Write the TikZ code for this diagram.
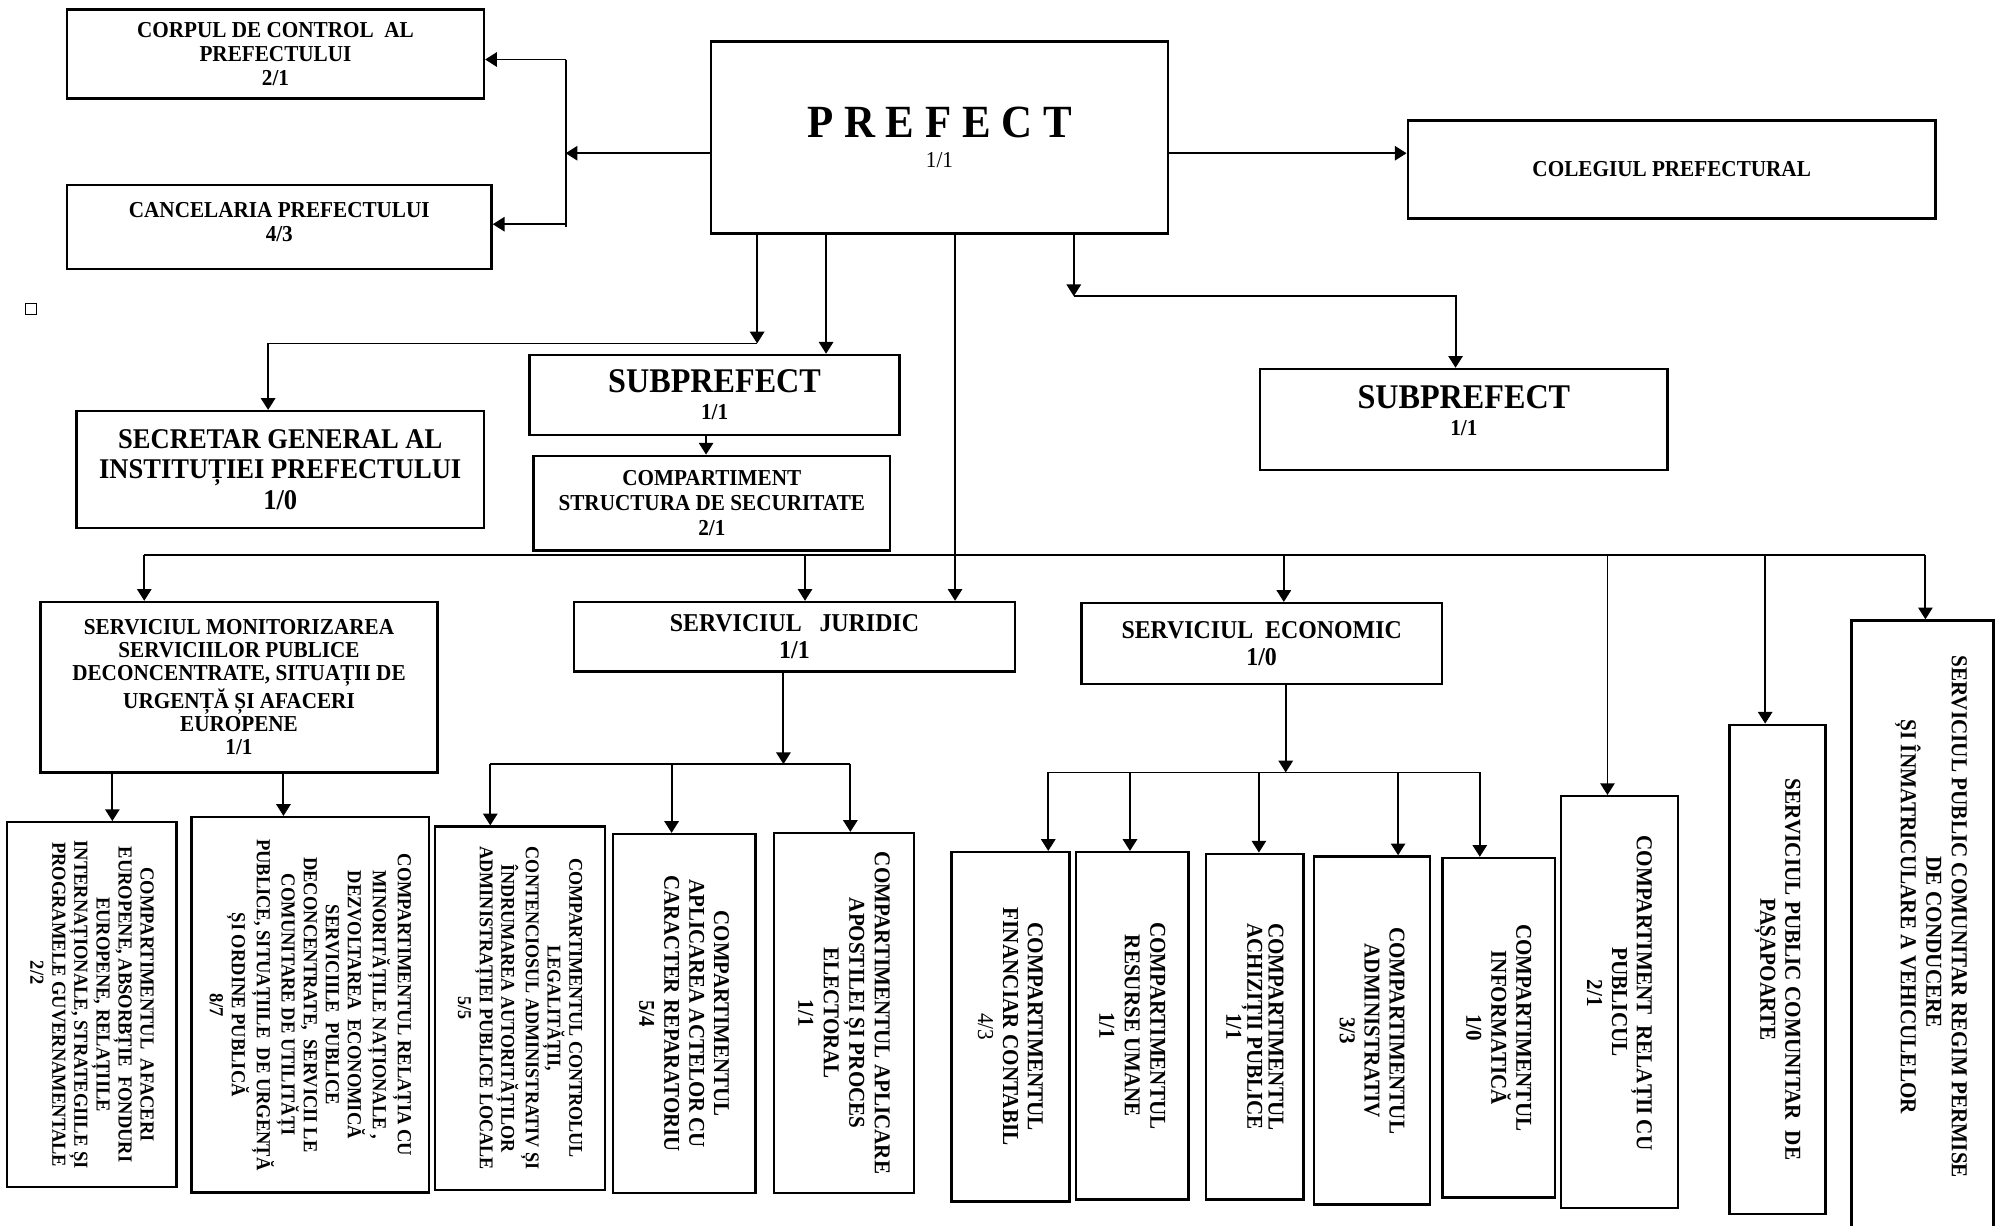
\documentclass[tikz,border=0pt]{standalone}
\usepackage{fontspec}
\setmainfont{Liberation Serif}[Scale=1.075, FakeStretch=0.93]
\usetikzlibrary{arrows.meta}
\newcommand{\myfs}[2]{\fontsize{#1}{#2}\selectfont}
\begin{document}
\begin{tikzpicture}[x={(0.5pt,0)},y={(0,-0.5pt)},
  box/.style={draw, line width=0.95pt, inner sep=0pt, align=center},
  rbox/.style={box, rotate=-90},
  arr/.style={line width=0.75pt, -{Triangle[length=4.6pt,width=5.6pt]}},
  ln/.style={line width=0.75pt}]
\useasboundingbox (0,0) rectangle (1568,960);

% top row
\node[box, font=\bfseries\myfs{8.3}{9.5}, minimum width=163.25pt, minimum height=35pt] (corp) at (215.75,42.3) {CORPUL DE CONTROL~~AL\\PREFECTULUI\\2/1};
\node[box, font=\bfseries\myfs{8.3}{9.5}, minimum width=166.25pt, minimum height=32.75pt] (canc) at (218.75,177.75) {CANCELARIA PREFECTULUI\\4/3\rule[-4pt]{0pt}{0pt}};
\node[box, font=\myfs{8.3}{11.75}, minimum width=178.8pt, minimum height=75.2pt] (pref) at (735.8,107.8) {{\bfseries\myfs{16.8}{11.75}P R E F E C T}\\1/1};
\node[box, font=\bfseries\myfs{8.3}{9.5}, minimum width=206.7pt, minimum height=38.25pt] (coleg) at (1309.3,132.75) {COLEGIUL PREFECTURAL};

\node[draw, line width=0.6pt, minimum size=4.2pt, inner sep=0pt] (sq) at (24.3,242) {};

% second level
\node[box, font=\bfseries\myfs{10.4}{12}, minimum width=159.5pt, minimum height=45.8pt] (secr) at (219.5,367.8) {SECRETAR GENERAL AL\\INSTITUȚIEI PREFECTULUI\\1/0};
\node[box, font=\bfseries\myfs{8.3}{10.5}, minimum width=145pt, minimum height=31.3pt] (subl) at (559.65,309.3) {{\myfs{12.6}{10.5}SUBPREFECT}\\1/1};
\node[box, font=\bfseries\myfs{8.3}{10.5}, minimum width=159.5pt, minimum height=39.5pt] (subr) at (1146.5,328.5) {{\myfs{12.6}{10.5}SUBPREFECT}\\1/1\rule[-7pt]{0pt}{0pt}};
\node[box, font=\bfseries\myfs{8.3}{9.65}, minimum width=139.5pt, minimum height=37pt] (cstr) at (557.5,394) {COMPARTIMENT\\STRUCTURA DE SECURITATE\\2/1};

% services
\node[box, font=\bfseries\myfs{8.3}{9}, minimum width=155.4pt, minimum height=66.75pt] (mon) at (187.2,538.25) {SERVICIUL MONITORIZAREA\\SERVICIILOR PUBLICE\\DECONCENTRATE, SITUAȚII DE\\URGENȚĂ ȘI AFACERI\\EUROPENE\\1/1};
\node[box, font=\bfseries\myfs{9.35}{10.5}, minimum width=172.75pt, minimum height=27.25pt] (jur) at (622.25,498.75) {SERVICIUL~~~JURIDIC\\1/1};
\node[box, font=\bfseries\myfs{9.35}{10.5}, minimum width=141.15pt, minimum height=31.6pt] (econ) at (988.15,504) {SERVICIUL~~ECONOMIC\\1/0};

% bottom row (rotated)
\node[rbox, font=\bfseries\myfs{7.25}{8.65}, minimum width=142.8pt, minimum height=66.35pt] (ca) at (72.05,786.8) {COMPARTIMENTUL~~AFACERI\\EUROPENE, ABSORBȚIE~~FONDURI\\EUROPENE, RELAȚIILE\\INTERNAȚIONALE, STRATEGIILE ȘI\\PROGRAMELE GUVERNAMENTALE\\2/2\hspace*{25pt}};
\node[rbox, font=\bfseries\myfs{7.25}{8.65}, minimum width=147pt, minimum height=93pt] (cb) at (243,787) {COMPARTIMENTUL RELAȚIA CU\\MINORITĂȚILE NAȚIONALE ,\\DEZVOLTAREA~~ECONOMICĂ\\SERVICIILE~~PUBLICE\\DECONCENTRATE,~~SERVICII LE\\COMUNITARE DE UTILITĂȚI\\PUBLICE, SITUAȚIILE~~DE URGENȚĂ\\ȘI ORDINE PUBLICĂ\\8/7};
\node[rbox, font=\bfseries\myfs{7.1}{8.5}, minimum width=142.3pt, minimum height=66.7pt] (cc) at (407.3,789.7) {COMPARTIMENTUL CONTROLUL\\LEGALITĂȚII,\\CONTENCIOSUL ADMINISTRATIV ȘI\\ÎNDRUMAREA AUTORITĂȚILOR\\ADMINISTRAȚIEI PUBLICE LOCALE\\5/5};
\node[rbox, font=\bfseries\myfs{8.2}{9.75}, minimum width=140.55pt, minimum height=55.85pt] (cd) at (535.85,793.85) {COMPARTIMENTUL\\APLICAREA ACTELOR CU\\CARACTER REPARATORIU\\5/4};
\node[rbox, font=\bfseries\myfs{8.25}{10}, minimum width=140.95pt, minimum height=54.7pt] (ce) at (661,793.45) {COMPARTIMENTUL APLICARE\\APOSTILEI ȘI PROCES\\ELECTORAL\\1/1};
\node[rbox, font=\bfseries\myfs{8.3}{9.75}, minimum width=136.8pt, minimum height=46.15pt] (cf) at (791.45,804.2) {COMPARTIMENTUL\\FINANCIAR CONTABIL\\{\mdseries 4/3}};
\node[rbox, font=\bfseries\myfs{8.25}{10}, minimum width=136.1pt, minimum height=44.05pt] (cg) at (886.75,803.5) {COMPARTIMENTUL\\RESURSE UMANE\\1/1};
\node[rbox, font=\bfseries\myfs{8.25}{8.25}, minimum width=135.45pt, minimum height=38.2pt] (ch) at (982.8,804.15) {COMPARTIMENTUL\\ACHIZIȚII PUBLICE\\1/1};
\node[rbox, font=\bfseries\myfs{8.25}{9.75}, minimum width=136.35pt, minimum height=45.3pt] (ci) at (1074.6,807.15) {COMPARTIMENTUL\\ADMINISTRATIV\\3/3};
\node[rbox, font=\bfseries\myfs{8.25}{9.75}, minimum width=132.9pt, minimum height=44.15pt] (cj) at (1173.85,804.9) {COMPARTIMENTUL\\INFORMATICĂ\\1/0};
\node[rbox, font=\bfseries\myfs{8.3}{9.75}, minimum width=161.2pt, minimum height=45.6pt] (ck) at (1268.4,784.8) {COMPARTIMENT~~RELAȚII CU\hspace*{7pt}\\PUBLICUL\hspace*{7pt}\\2/1\hspace*{7pt}};
\node[rbox, font=\bfseries\myfs{8.3}{9.8}, minimum width=191.65pt, minimum height=37.6pt] (cl) at (1392.2,759.35) {SERVICIUL PUBLIC COMUNITAR~~DE\\PAȘAPOARTE};
\node[rbox, font=\bfseries\myfs{8.3}{10}, minimum width=252pt, minimum height=55.65pt] (cm) at (1505.65,738) {SERVICIUL PUBLIC COMUNITAR REGIM PERMISE\hspace*{20pt}\\DE CONDUCERE\hspace*{20pt}\\ȘI ÎNMATRICULARE A VEHICULELOR\hspace*{20pt}\rule[-9pt]{0pt}{0pt}};

% connectors from prefect, left
\coordinate (jL) at (443,120);
\coordinate (cT) at (443,46.6);
\coordinate (cB) at (443,178);
\coordinate (cC) at (443,175.6);
\draw[arr] (jL -| pref.west) -- (jL);
\draw[ln] (cT) -- (cB);
\draw[arr] (cT) -- (cT -| corp.east);
\draw[arr] (cC) -- (cC -| canc.east);
\draw[arr] (jL -| pref.east) -- (jL -| coleg.west);

% connectors from prefect, down
\coordinate (p1) at (593,269);
\coordinate (s1) at (210,269);
\draw[arr] (p1 |- pref.south) -- (p1);
\draw[arr] (p1) -- (s1) -- (s1 |- secr.north);
\coordinate (p2) at (647,230);
\draw[arr] (p2 |- pref.south) -- (p2 |- subl.north);
\coordinate (p3) at (553,350);
\draw[arr] (p3 |- subl.south) -- (p3 |- cstr.north);
\coordinate (p4) at (748,450);
\draw[arr] (p4 |- pref.south) -- (p4 |- jur.north);
\coordinate (p5) at (841,232);
\coordinate (s5) at (1140,232);
\draw[arr] (p5 |- pref.south) -- (p5);
\draw[arr] (p5) -- (s5) -- (s5 |- subr.north);

% main bus
\coordinate (b0) at (113,435);
\coordinate (b1) at (630.5,435);
\coordinate (b2) at (1005.5,435);
\coordinate (b3) at (1259,435);
\coordinate (b4) at (1382.5,435);
\coordinate (b5) at (1508,435);
\draw[ln] (b0) -- (b5);
\draw[arr] (b0) -- (b0 |- mon.north);
\draw[arr] (b1) -- (b1 |- jur.north);
\draw[arr] (b2) -- (b2 |- econ.north);
\draw[arr] (b3) -- (b3 |- ck.west);
\draw[arr] (b4) -- (b4 |- cl.west);
\draw[arr] (b5) -- (b5 |- cm.west);

% monitorizare children
\coordinate (m1) at (88,620);
\coordinate (m2) at (222,620);
\draw[arr] (m1 |- mon.south) -- (m1 |- ca.west);
\draw[arr] (m2 |- mon.south) -- (m2 |- cb.west);

% juridic children
\coordinate (j0) at (613.6,598.5);
\coordinate (j1) at (384,598.5);
\coordinate (j2) at (526,598.5);
\coordinate (j3) at (666,598.5);
\draw[arr] (j0 |- jur.south) -- (j0);
\draw[ln] (j1) -- (j3);
\draw[arr] (j1) -- (j1 |- cc.west);
\draw[arr] (j2) -- (j2 |- cd.west);
\draw[arr] (j3) -- (j3 |- ce.west);

% economic children
\coordinate (e0) at (1007,605);
\coordinate (e1) at (821,605);
\coordinate (e2) at (885,605);
\coordinate (e3) at (986,605);
\coordinate (e4) at (1095,605);
\coordinate (e5) at (1159,605);
\draw[arr] (e0 |- econ.south) -- (e0);
\draw[ln] (e1) -- (e5);
\draw[arr] (e1) -- (e1 |- cf.west);
\draw[arr] (e2) -- (e2 |- cg.west);
\draw[arr] (e3) -- (e3 |- ch.west);
\draw[arr] (e4) -- (e4 |- ci.west);
\draw[arr] (e5) -- (e5 |- cj.west);
\end{tikzpicture}
\end{document}
